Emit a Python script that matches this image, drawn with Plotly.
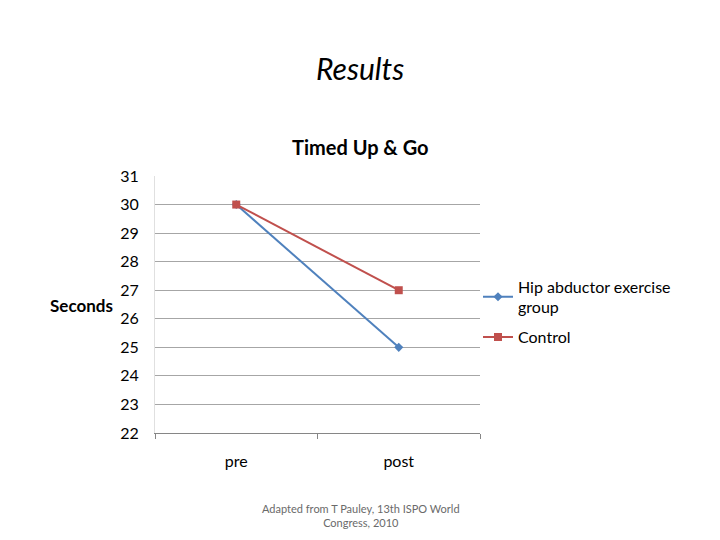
import plotly.graph_objects as go

categories = ["pre", "post"]
hip_group = [30, 25]
control = [30, 27]
y_ticks = [22, 23, 24, 25, 26, 27, 28, 29, 30, 31]

FONT = "Lato, 'Open Sans', sans-serif"

# page body adds an 8px offset; plot area target: x 155-480, y 176-433
OFF = 8
PL, PR, PT, PB = 155, 480, 176, 433
PW, PH = PR - PL, PB - PT


def px(x):
    return (x - PL) / PW


def py(y):
    return (PB - y) / PH


fig = go.Figure()
fig.add_trace(go.Scatter(
    x=categories, y=hip_group, mode="lines+markers",
    name="Hip abductor exercise<br>group", legendgroup="a",
    line=dict(color="#4F81BD", width=2),
    marker=dict(symbol="diamond", size=7, color="#4F81BD"),
))
fig.add_trace(go.Scatter(
    x=categories, y=control, mode="lines+markers",
    name="Control", legendgroup="b",
    line=dict(color="#C0504D", width=2),
    marker=dict(symbol="square", size=8, color="#C0504D"),
))

fig.update_layout(
    width=720, height=540,
    paper_bgcolor="white", plot_bgcolor="white",
    margin=dict(l=PL - OFF, r=720 - PR + OFF, t=PT - OFF, b=540 - PB + OFF,
                autoexpand=False),
    font=dict(family=FONT, color="#000000"),
    showlegend=True,
    legend=dict(x=px(478), y=py(312), xanchor="left", yanchor="middle",
                font=dict(size=16, family=FONT), tracegroupgap=6,
                bgcolor="rgba(0,0,0,0)"),
    xaxis=dict(
        type="category", range=[-0.5, 1.5], showgrid=False,
        tickson="boundaries", ticks="outside", ticklen=5, tickcolor="#868686",
        showline=True, linecolor="#868686", linewidth=1,
        tickfont=dict(size=16, family=FONT), ticklabelstandoff=14,
    ),
    yaxis=dict(
        range=[22, 31], tickvals=y_ticks, showgrid=True, gridcolor="#a6a6a6",
        gridwidth=1, showline=True, linecolor="#e0e0e0", zeroline=False,
        tickfont=dict(size=16, family=FONT), ticks="", ticklabelstandoff=12,
    ),
    annotations=[
        dict(text="<i>Results</i>", xref="paper", yref="paper",
             x=px(360), y=py(68), xanchor="center", yanchor="middle",
             showarrow=False, font=dict(size=30, family=FONT)),
        dict(text="<b>Timed Up &amp; Go</b>", xref="paper", yref="paper",
             x=px(360), y=py(147), xanchor="center", yanchor="middle",
             showarrow=False, font=dict(size=20, family=FONT)),
        dict(text="<b>Seconds</b>", xref="paper", yref="paper",
             x=px(81), y=py(305), xanchor="center", yanchor="middle",
             showarrow=False, font=dict(size=17, family=FONT)),
        dict(text="Adapted from T Pauley, 13th ISPO World<br>Congress, 2010",
             xref="paper", yref="paper",
             x=px(361), y=py(515), xanchor="center", yanchor="middle",
             showarrow=False, font=dict(size=11, family=FONT, color="#6a6a6a")),
    ],
)

fig.write_html("out.html")
